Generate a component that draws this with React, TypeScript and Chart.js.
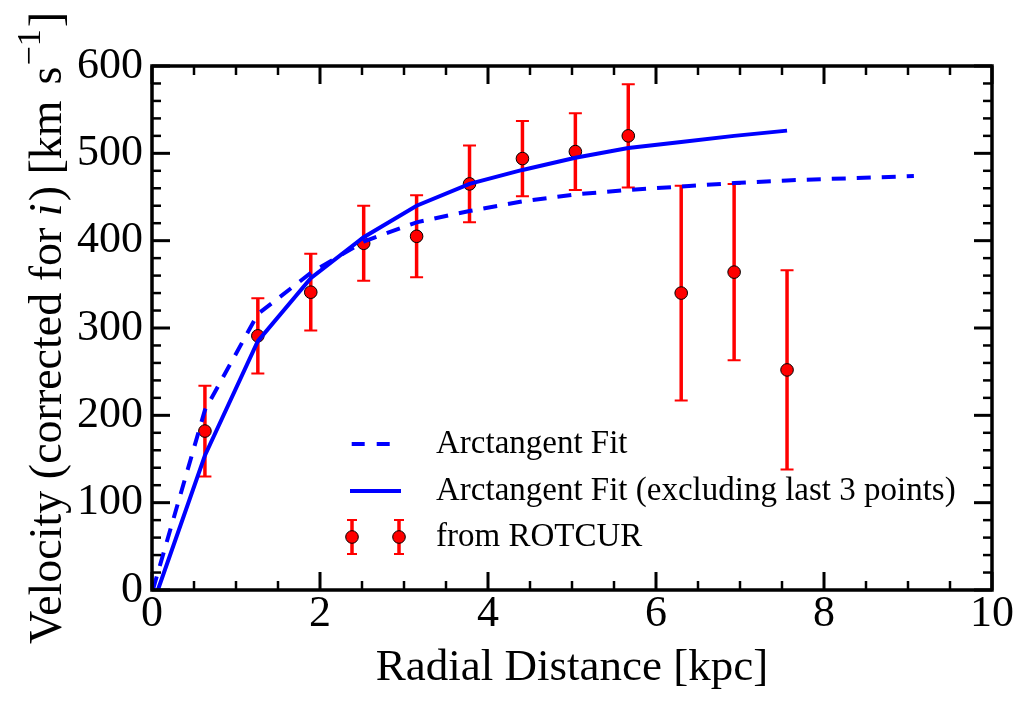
import React, { useEffect, useRef } from "react";
import { Chart, registerables } from "chart.js";

Chart.register(...registerables);

// ---- data ----
const radius = [0.63, 1.26, 1.89, 2.52, 3.15, 3.78, 4.41, 5.04, 5.67, 6.3, 6.93, 7.56];
const velocity = [182, 291, 341, 397, 405, 465, 494, 502, 520, 340, 364, 252];
const velocityErr = [52, 43, 44, 43, 47, 44, 43, 44, 59, 123, 101, 114];

const fitAllR = [0.01, 0.63, 1.26, 1.89, 2.52, 3.15, 3.78, 4.41, 5.04, 5.67, 6.3, 6.93, 7.56, 9.07];
const fitAllV = [0, 206, 316, 363, 399, 421, 434, 445, 453, 458, 462, 466, 469, 474];

const fitPartR = [0.07, 0.63, 1.26, 1.89, 2.52, 3.15, 3.78, 4.41, 5.04, 5.67, 6.3, 6.93, 7.56];
const fitPartV = [0, 154, 285, 357, 404, 440, 465, 481, 495, 506, 513, 520, 526];

const xTickValues = [0, 2, 4, 6, 8, 10];
const xTickLabels = ["0", "2", "4", "6", "8", "10"];
const yTickValues = [0, 100, 200, 300, 400, 500, 600];
const yTickLabels = ["0", "100", "200", "300", "400", "500", "600"];
const xMinorStep = 0.5;
const yMinorStep = 20;

const seriesLabels = [
  "Arctangent Fit",
  "Arctangent Fit (excluding last 3 points)",
  "from ROTCUR",
];

const FONT = "'Liberation Serif', 'Times New Roman', serif";
const BLUE = "#0000ff";
const RED = "#ff0000";
const DASH = [14, 11];

const decorPlugin = {
  id: "decor",
  beforeDatasetDraw(chart: any, args: any) {
    if (args.index !== 2) return;
    const ctx = chart.ctx;
    const xs = chart.scales.x;
    const ys = chart.scales.y;
    ctx.save();
    ctx.strokeStyle = RED;
    radius.forEach((r, i) => {
      const px = xs.getPixelForValue(r);
      const top = ys.getPixelForValue(velocity[i] + velocityErr[i]);
      const bot = ys.getPixelForValue(velocity[i] - velocityErr[i]);
      ctx.lineWidth = 3.5;
      ctx.beginPath();
      ctx.moveTo(px, top);
      ctx.lineTo(px, bot);
      ctx.stroke();
      ctx.lineWidth = 2;
      ctx.beginPath();
      ctx.moveTo(px - 6.5, top);
      ctx.lineTo(px + 6.5, top);
      ctx.moveTo(px - 6.5, bot);
      ctx.lineTo(px + 6.5, bot);
      ctx.stroke();
    });
    ctx.restore();
  },
  afterDraw(chart: any) {
    const ctx = chart.ctx;
    const a = chart.chartArea;
    const xs = chart.scales.x;
    const ys = chart.scales.y;
    ctx.save();
    // frame
    ctx.strokeStyle = "#000";
    ctx.lineWidth = 3.5;
    ctx.strokeRect(a.left, a.top, a.right - a.left, a.bottom - a.top);
    // ticks (inward, all sides)
    const drawTick = (x1: number, y1: number, x2: number, y2: number, w: number) => {
      ctx.lineWidth = w;
      ctx.beginPath();
      ctx.moveTo(x1, y1);
      ctx.lineTo(x2, y2);
      ctx.stroke();
    };
    for (let v = xs.min; v <= xs.max + 1e-9; v += xMinorStep) {
      const px = xs.getPixelForValue(v);
      const major = xTickValues.some((t) => Math.abs(t - v) < 1e-6);
      const len = major ? 18 : 9;
      const w = major ? 3 : 2.5;
      drawTick(px, a.bottom, px, a.bottom - len, w);
      drawTick(px, a.top, px, a.top + len, w);
    }
    for (let v = ys.min; v <= ys.max + 1e-9; v += yMinorStep) {
      const py = ys.getPixelForValue(v);
      const major = yTickValues.some((t) => Math.abs(t - v) < 1e-6);
      const len = major ? 18 : 9;
      const w = major ? 3 : 2.5;
      drawTick(a.left, py, a.left + len, py, w);
      drawTick(a.right, py, a.right - len, py, w);
    }

    // legend
    const lx = a.left + 198;
    const tx = a.left + 284;
    const rows = [a.top + 378, a.top + 425, a.top + 471];
    ctx.lineCap = "butt";
    ctx.strokeStyle = BLUE;
    ctx.lineWidth = 4;
    ctx.setLineDash([13, 12]);
    ctx.beginPath();
    ctx.moveTo(lx + 1.7, rows[0]);
    ctx.lineTo(lx + 40, rows[0]);
    ctx.stroke();
    ctx.setLineDash([]);
    ctx.beginPath();
    ctx.moveTo(lx, rows[1]);
    ctx.lineTo(lx + 51, rows[1]);
    ctx.stroke();
    [lx + 2, lx + 49].forEach((mx) => {
      ctx.strokeStyle = RED;
      ctx.lineWidth = 3.5;
      ctx.beginPath();
      ctx.moveTo(mx, rows[2] - 17);
      ctx.lineTo(mx, rows[2] + 17);
      ctx.stroke();
      ctx.lineWidth = 2;
      ctx.beginPath();
      ctx.moveTo(mx - 5, rows[2] - 17);
      ctx.lineTo(mx + 5, rows[2] - 17);
      ctx.moveTo(mx - 5, rows[2] + 17);
      ctx.lineTo(mx + 5, rows[2] + 17);
      ctx.stroke();
      ctx.fillStyle = RED;
      ctx.strokeStyle = "#000";
      ctx.lineWidth = 1;
      ctx.beginPath();
      ctx.arc(mx, rows[2], 6.3, 0, Math.PI * 2);
      ctx.fill();
      ctx.stroke();
    });
    ctx.fillStyle = "#000";
    ctx.font = `33px ${FONT}`;
    ctx.textBaseline = "middle";
    ctx.textAlign = "left";
    chart.data.datasets.forEach((ds: any, i: number) => {
      ctx.fillText(ds.label, tx, rows[i]);
    });

    // y axis title with italic i and superscript
    const segs = [
      { t: "Velocity (corrected for ", f: `46px ${FONT}`, dy: 0, gap: 0 },
      { t: "i", f: `italic 46px ${FONT}`, dy: 0, gap: 2 },
      { t: ") [km", f: `46px ${FONT}`, dy: 0, gap: 16 },
      { t: "s", f: `46px ${FONT}`, dy: 0, gap: 1 },
      { t: "\u22121", f: `34px ${FONT}`, dy: -21, gap: 2 },
      { t: "]", f: `46px ${FONT}`, dy: 0, gap: 0 },
    ];
    let total = 0;
    const widths = segs.map((s) => {
      ctx.font = s.f;
      const w = ctx.measureText(s.t).width + s.gap;
      total += w;
      return w;
    });
    const cy = (a.top + a.bottom) / 2;
    ctx.translate(61, cy);
    ctx.rotate(-Math.PI / 2);
    ctx.textBaseline = "alphabetic";
    let cx = -total / 2;
    segs.forEach((s, i) => {
      ctx.font = s.f;
      ctx.fillText(s.t, cx, s.dy);
      cx += widths[i];
    });
    ctx.restore();
  },
};

export default function App() {
  const canvasRef = useRef<HTMLCanvasElement | null>(null);

  useEffect(() => {
    const canvas = canvasRef.current;
    if (!canvas) return;
    const chart = new Chart(canvas, {
      type: "scatter",
      data: {
        datasets: [
          {
            label: seriesLabels[0],
            data: fitAllR.map((r, i) => ({ x: r, y: fitAllV[i] })),
            showLine: true,
            borderColor: BLUE,
            borderWidth: 4,
            borderDash: DASH,
            pointRadius: 0,
            fill: false,
            tension: 0,
          },
          {
            label: seriesLabels[1],
            data: fitPartR.map((r, i) => ({ x: r, y: fitPartV[i] })),
            showLine: true,
            borderColor: BLUE,
            borderWidth: 4,
            pointRadius: 0,
            fill: false,
            tension: 0,
          },
          {
            label: seriesLabels[2],
            data: radius.map((r, i) => ({ x: r, y: velocity[i] })),
            showLine: false,
            pointRadius: 6.3,
            pointBackgroundColor: RED,
            pointBorderColor: "#000",
            pointBorderWidth: 1,
          },
        ],
      },
      options: {
        animation: false,
        responsive: false,
        devicePixelRatio: 1,
        layout: { padding: { left: 0, right: 38, top: 66, bottom: 0 } },
        plugins: {
          legend: { display: false },
          tooltip: { enabled: false },
        },
        scales: {
          x: {
            type: "linear",
            min: 0,
            max: 10,
            afterBuildTicks: (s: any) => {
              s.ticks = xTickValues.map((v) => ({ value: v }));
            },
            afterFit: (s: any) => {
              s.height = 117;
            },
            grid: { display: false, drawTicks: false },
            border: { display: false },
            ticks: {
              color: "#000",
              padding: 2,
              maxRotation: 0,
              autoSkip: false,
              font: { family: FONT, size: 44, lineHeight: 1 },
              callback: (v: any) => xTickLabels[xTickValues.indexOf(Number(v))] ?? "",
            },
            title: {
              display: true,
              text: "Radial Distance [kpc]",
              color: "#000",
              font: { family: FONT, size: 45, lineHeight: 1 },
              padding: { top: 0, bottom: 16 },
            },
          },
          y: {
            type: "linear",
            min: 0,
            max: 600,
            afterBuildTicks: (s: any) => {
              s.ticks = yTickValues.map((v) => ({ value: v }));
            },
            afterFit: (s: any) => {
              s.width = 152;
            },
            grid: { display: false, drawTicks: false },
            border: { display: false },
            ticks: {
              color: "#000",
              padding: 9,
              autoSkip: false,
              font: { family: FONT, size: 44, lineHeight: 1 },
              callback: (v: any) => yTickLabels[yTickValues.indexOf(Number(v))] ?? "",
            },
          },
        },
      },
      plugins: [decorPlugin],
    } as any);
    return () => chart.destroy();
  }, []);

  return (
    <div
      style={{
        position: "fixed",
        left: 0,
        top: 0,
        width: 1030,
        height: 707,
        background: "#fff",
      }}
    >
      <canvas ref={canvasRef} width={1030} height={707} style={{ display: "block" }} />
    </div>
  );
}
